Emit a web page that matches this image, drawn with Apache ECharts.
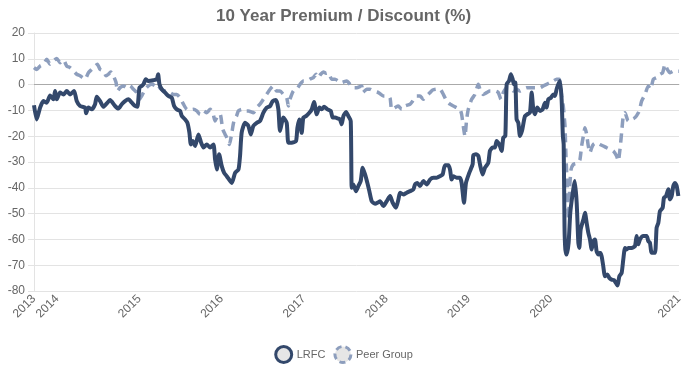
<!DOCTYPE html>
<html>
<head>
<meta charset="utf-8">
<script src="https://cdn.jsdelivr.net/npm/echarts@6/dist/echarts.min.js"></script>
<style>
html,body{margin:0;padding:0;background:#fff;}
#chart{width:687px;height:368px;}
</style>
</head>
<body>
<div id="chart"></div>
<script>
// x values are decimal years
const xMin = 2013.72;
const xMax = 2021.556;
const yTicks = [-80, -70, -60, -50, -40, -30, -20, -10, 0, 10, 20];

const lrfc = [
[2013.72,-8.0],[2013.753,-13.5],[2013.794,-8.9],[2013.834,-6.4],[2013.875,-7.0],[2013.915,-4.2],[2013.956,-5.7],[2013.976,-2.5],[2013.996,-5.7],
[2014.037,-3.1],[2014.077,-3.8],[2014.118,-2.5],[2014.158,-3.8],[2014.207,-2.5],[2014.239,-6.4],[2014.28,-8.3],[2014.34,-8.9],[2014.353,-11.1],
[2014.381,-8.9],[2014.421,-9.6],[2014.462,-7.6],[2014.482,-4.7],[2014.523,-6.4],[2014.563,-8.6],[2014.604,-7.3],[2014.644,-6.0],[2014.705,-8.3],
[2014.746,-9.3],[2014.786,-7.6],[2014.826,-6.4],[2014.867,-5.7],[2014.908,-7.0],[2014.948,-8.3],[2014.976,-8.6],[2015.001,-1.2],[2015.029,-0.5],
[2015.05,0.1],[2015.078,2.1],[2015.11,1.4],[2015.171,1.7],[2015.212,2.1],[2015.228,4.0],[2015.244,0.1],[2015.272,-1.8],[2015.313,-3.1],[2015.353,-4.4],
[2015.394,-5.1],[2015.422,-8.3],[2015.455,-9.6],[2015.495,-10.2],[2015.516,-12.2],[2015.556,-13.5],[2015.584,-14.8],[2015.608,-18.6],[2015.625,-23.2],
[2015.649,-21.9],[2015.677,-23.8],[2015.718,-19.3],[2015.75,-22.5],[2015.779,-24.4],[2015.819,-23.2],[2015.86,-24.4],[2015.9,-23.2],[2015.92,-29.0],
[2015.941,-32.9],[2015.969,-27.0],[2016.001,-31.6],[2016.03,-34.2],[2016.062,-35.5],[2016.123,-38.1],[2016.163,-34.2],[2016.204,-32.9],[2016.223,-27.7],
[2016.243,-18.6],[2016.284,-14.8],[2016.324,-16.0],[2016.353,-19.3],[2016.385,-16.0],[2016.426,-14.8],[2016.466,-14.1],[2016.507,-10.9],[2016.547,-8.9],
[2016.588,-8.3],[2016.62,-6.4],[2016.66,-6.0],[2016.689,-9.6],[2016.709,-18.0],[2016.75,-12.8],[2016.79,-14.8],[2016.81,-22.5],[2016.851,-22.5],
[2016.903,-21.9],[2016.92,-16.7],[2016.944,-13.5],[2016.972,-18.7],[2016.992,-12.8],[2017.025,-12.2],[2017.065,-10.9],[2017.094,-9.6],[2017.122,-6.7],
[2017.155,-11.5],[2017.187,-8.9],[2017.215,-9.6],[2017.244,-8.6],[2017.284,-9.6],[2017.325,-10.2],[2017.349,-12.8],[2017.377,-12.8],[2017.418,-13.2],
[2017.438,-13.5],[2017.458,-15.4],[2017.479,-12.2],[2017.511,-10.6],[2017.539,-12.2],[2017.568,-14.1],[2017.58,-40.0],[2017.6,-38.7],[2017.632,-41.3],
[2017.661,-39.3],[2017.689,-37.4],[2017.713,-32.2],[2017.742,-34.8],[2017.77,-38.1],[2017.794,-41.3],[2017.823,-45.2],[2017.863,-46.2],[2017.904,-45.6],
[2017.924,-45.2],[2017.965,-47.1],[2018.005,-45.2],[2018.046,-43.2],[2018.078,-45.8],[2018.118,-47.7],[2018.147,-44.5],[2018.167,-41.9],[2018.208,-42.6],
[2018.248,-41.9],[2018.289,-41.3],[2018.329,-40.6],[2018.349,-38.7],[2018.378,-38.1],[2018.41,-39.3],[2018.45,-37.4],[2018.491,-38.7],[2018.531,-36.8],
[2018.572,-36.1],[2018.612,-36.1],[2018.653,-35.5],[2018.685,-34.8],[2018.713,-31.3],[2018.754,-31.3],[2018.774,-32.9],[2018.794,-36.8],[2018.815,-35.5],
[2018.854,-36.1],[2018.895,-36.1],[2018.915,-38.1],[2018.944,-45.8],[2018.968,-38.1],[2019.008,-34.2],[2019.049,-30.9],[2019.057,-27.4],[2019.089,-27.0],
[2019.118,-27.7],[2019.138,-30.9],[2019.17,-34.8],[2019.199,-32.2],[2019.239,-30.3],[2019.259,-25.7],[2019.292,-24.4],[2019.32,-24.4],[2019.34,-21.9],
[2019.373,-23.2],[2019.401,-25.7],[2019.421,-20.6],[2019.446,-19.9],[2019.462,0.1],[2019.49,1.4],[2019.514,4.0],[2019.535,2.1],[2019.551,0.1],[2019.567,0.8],
[2019.583,-13.5],[2019.604,-14.8],[2019.624,-19.9],[2019.648,-18.0],[2019.664,-15.4],[2019.685,-12.2],[2019.713,-11.5],[2019.745,-10.9],[2019.766,-3.1],
[2019.786,-9.6],[2019.806,-11.5],[2019.834,-8.9],[2019.867,-10.2],[2019.899,-9.6],[2019.928,-7.0],[2019.948,-8.9],[2019.968,-5.7],[2020.0,-5.1],
[2020.029,-3.8],[2020.049,-4.4],[2020.069,-1.8],[2020.09,0.1],[2020.11,1.4],[2020.13,-5.7],[2020.145,-19.9],[2020.155,-23.2],[2020.165,-55.0],
[2020.175,-63.9],[2020.19,-65.9],[2020.215,-61.3],[2020.235,-49.7],[2020.26,-43.2],[2020.29,-37.4],[2020.313,-45.8],[2020.333,-61.3],[2020.345,-63.3],
[2020.361,-56.2],[2020.394,-52.3],[2020.414,-49.7],[2020.434,-53.6],[2020.454,-57.4],[2020.474,-60.0],[2020.495,-63.9],[2020.515,-60.7],[2020.535,-60.0],
[2020.555,-64.6],[2020.576,-65.9],[2020.596,-65.2],[2020.616,-66.5],[2020.636,-70.4],[2020.657,-74.3],[2020.685,-73.6],[2020.709,-74.9],[2020.738,-75.6],
[2020.766,-75.8],[2020.79,-76.9],[2020.81,-77.9],[2020.831,-74.3],[2020.859,-73.0],[2020.879,-67.8],[2020.9,-63.3],[2020.92,-63.9],[2020.94,-63.3],
[2020.981,-63.3],[2021.021,-62.6],[2021.041,-58.7],[2021.062,-61.9],[2021.082,-60.0],[2021.122,-58.7],[2021.163,-58.7],[2021.183,-60.7],[2021.203,-61.3],
[2021.224,-65.2],[2021.264,-65.2],[2021.284,-55.5],[2021.305,-53.6],[2021.325,-49.0],[2021.357,-47.8],[2021.373,-43.9],[2021.398,-43.2],[2021.426,-40.6],
[2021.446,-44.5],[2021.467,-43.2],[2021.487,-39.3],[2021.507,-38.1],[2021.528,-39.3],[2021.548,-43.2]
];

const peerGroup = [
[2013.72,6.6],[2013.753,5.9],[2013.794,7.2],[2013.834,7.9],[2013.875,9.8],[2013.915,7.9],[2013.956,9.2],[2013.996,10.1],[2014.037,8.5],[2014.077,9.6],
[2014.118,7.2],[2014.158,6.6],[2014.199,5.3],[2014.239,4.0],[2014.28,3.4],[2014.312,2.7],[2014.34,2.1],[2014.381,4.6],[2014.421,5.9],[2014.462,7.2],
[2014.49,7.9],[2014.523,5.9],[2014.563,5.3],[2014.596,3.4],[2014.624,4.0],[2014.652,4.9],[2014.685,3.4],[2014.717,0.8],[2014.733,-2.5],[2014.766,-1.2],
[2014.806,-0.5],[2014.847,-1.2],[2014.887,-0.5],[2014.928,-1.8],[2014.968,-3.1],[2015.001,-5.7],[2015.029,-4.4],[2015.07,-1.8],[2015.11,-0.5],[2015.151,0.1],
[2015.191,-0.5],[2015.22,-1.8],[2015.252,-1.2],[2015.292,-2.5],[2015.333,-2.5],[2015.373,-3.1],[2015.414,-3.8],[2015.455,-3.8],[2015.495,-5.1],[2015.536,-7.6],
[2015.576,-9.6],[2015.616,-9.8],[2015.657,-9.6],[2015.697,-10.2],[2015.738,-11.5],[2015.779,-10.2],[2015.819,-10.9],[2015.86,-9.6],[2015.892,-10.9],
[2015.92,-14.1],[2015.949,-12.2],[2015.981,-11.5],[2016.013,-17.3],[2016.042,-19.3],[2016.062,-20.6],[2016.094,-23.2],[2016.123,-18.7],[2016.15,-14.0],
[2016.183,-12.0],[2016.203,-10.2],[2016.243,-9.6],[2016.284,-10.2],[2016.324,-10.2],[2016.385,-10.9],[2016.426,-8.9],[2016.466,-7.6],[2016.507,-5.7],
[2016.547,-3.8],[2016.588,-1.8],[2016.628,-0.5],[2016.668,-2.5],[2016.709,-2.5],[2016.75,-3.8],[2016.79,-5.1],[2016.81,-8.3],[2016.83,-5.7],[2016.871,-2.5],
[2016.911,-1.8],[2016.952,0.1],[2016.992,1.4],[2017.033,1.4],[2017.073,2.1],[2017.114,2.7],[2017.146,4.0],[2017.174,2.7],[2017.203,4.0],[2017.235,4.9],
[2017.268,4.4],[2017.296,4.6],[2017.336,2.1],[2017.377,2.1],[2017.417,1.4],[2017.458,0.8],[2017.519,1.4],[2017.559,0.1],[2017.592,-1.2],[2017.64,-1.2],
[2017.701,-0.5],[2017.713,-3.1],[2017.762,-1.8],[2017.802,-1.8],[2017.843,-2.5],[2017.904,-3.1],[2017.964,-4.4],[2018.005,-4.4],[2018.045,-5.1],[2018.065,-9.6],
[2018.106,-8.9],[2018.146,-8.3],[2018.187,-9.6],[2018.227,-8.3],[2018.288,-7.6],[2018.32,-6.4],[2018.369,-4.4],[2018.409,-4.4],[2018.45,-5.7],[2018.49,-4.4],
[2018.531,-3.1],[2018.563,-2.1],[2018.612,-1.8],[2018.652,-1.8],[2018.693,-3.8],[2018.733,-6.4],[2018.774,-7.6],[2018.814,-8.3],[2018.855,-8.9],[2018.895,-9.6],
[2018.915,-11.5],[2018.935,-16.0],[2018.956,-20.0],[2018.976,-13.5],[2018.996,-9.6],[2019.037,-5.7],[2019.077,-3.8],[2019.118,0.1],[2019.138,-1.8],[2019.178,-3.8],
[2019.219,-3.1],[2019.259,-2.5],[2019.32,-2.5],[2019.361,-3.1],[2019.393,-5.7],[2019.421,-3.1],[2019.462,-1.2],[2019.502,-1.2],[2019.543,-2.5],[2019.583,-1.8],
[2019.624,-2.5],[2019.664,-1.8],[2019.705,-1.2],[2019.745,-1.2],[2019.806,-1.2],[2019.867,-1.2],[2019.907,-0.5],[2019.948,0.1],[2019.988,0.8],[2020.029,1.4],
[2020.069,2.1],[2020.102,2.1],[2020.13,-4.4],[2020.15,-8.3],[2020.159,-11.5],[2020.171,-16.0],[2020.183,-28.0],[2020.2,-40.0],[2020.215,-52.3],[2020.228,-40.0],
[2020.245,-32.9],[2020.272,-30.9],[2020.3,-30.6],[2020.333,-30.3],[2020.353,-29.0],[2020.373,-23.8],[2020.394,-19.9],[2020.414,-16.7],[2020.434,-19.3],
[2020.454,-23.8],[2020.474,-26.4],[2020.495,-24.5],[2020.515,-23.2],[2020.555,-22.5],[2020.596,-23.2],[2020.636,-23.8],[2020.677,-24.5],[2020.717,-25.1],
[2020.758,-25.7],[2020.798,-27.7],[2020.818,-29.6],[2020.839,-25.1],[2020.859,-18.6],[2020.879,-12.2],[2020.9,-10.9],[2020.94,-14.1],[2020.981,-13.5],
[2021.021,-12.8],[2021.062,-10.9],[2021.082,-9.0],[2021.102,-6.4],[2021.143,-3.8],[2021.183,-0.5],[2021.211,-1.8],[2021.244,2.1],[2021.284,2.7],[2021.325,4.0],
[2021.357,4.6],[2021.386,7.9],[2021.414,5.9],[2021.446,4.6],[2021.487,5.2],[2021.528,5.2],[2021.556,5.2]
];

const seriesNames = ['LRFC', 'Peer Group'];
const titleText = '10 Year Premium / Discount (%)';

const lrfcColor = '#33486b';
const peerColor = '#8d9ebd';
const font = "'Liberation Sans', Arial, sans-serif";

const chart = echarts.init(document.getElementById('chart'), null, {renderer: 'canvas'});
chart.setOption({
  animation: false,
  backgroundColor: '#fff',
  title: {
    text: titleText,
    left: 'center',
    top: 3,
    textStyle: {fontFamily: font, fontSize: 17, fontWeight: 'bold', color: '#666'}
  },
  legend: {
    data: [
      {name: seriesNames[0], itemStyle: {color: '#e6e6e6', borderColor: lrfcColor, borderWidth: 3}},
      {name: seriesNames[1], itemStyle: {color: '#e6e6e6', borderColor: peerColor, borderWidth: 3, borderType: [6, 4]}}
    ],
    icon: 'circle',
    left: 'center',
    top: 340,
    itemWidth: 16,
    itemHeight: 16,
    itemGap: 8,
    textStyle: {fontFamily: font, fontSize: 11, color: '#666'}
  },
  grid: {left: 34, right: 8, top: 33, bottom: 77, containLabel: false, outerBoundsMode: 'none'},
  xAxis: {
    type: 'value',
    min: xMin,
    max: xMax,
    splitNumber: 8,
    minInterval: 1,
    maxInterval: 1,
    axisLine: {show: true, lineStyle: {color: '#d0d0d0', width: 1}},
    axisTick: {show: false},
    splitLine: {show: false},
    axisLabel: {
      rotate: 45,
      margin: 6,
      showMinLabel: true,
      showMaxLabel: true,
      fontFamily: font,
      fontSize: 12,
      color: '#666',
      formatter: function (v) {
        if (Math.abs(v - xMin) < 1e-6) return String(Math.floor(xMin));
        if (Math.abs(v - xMax) < 1e-6) return String(Math.floor(xMax));
        if (Math.round(v) === Math.floor(xMax)) return '';
        return String(Math.round(v));
      }
    }
  },
  yAxis: {
    type: 'value',
    min: yTicks[0],
    max: yTicks[yTicks.length - 1],
    interval: 10,
    axisLine: {show: true, lineStyle: {color: '#e3e3e3'}},
    axisTick: {show: true, length: 6, lineStyle: {color: '#e3e3e3'}},
    splitLine: {show: true, lineStyle: {color: '#e3e3e3', width: 1}},
    axisLabel: {margin: 9, fontFamily: font, fontSize: 12, color: '#666'}
  },
  series: [
    {
      name: seriesNames[1],
      type: 'line',
      data: peerGroup,
      showSymbol: false,
      symbol: 'none',
      smooth: 0.2,
      z: 2,
      lineStyle: {color: peerColor, width: 3.5, type: [9, 6]},
      itemStyle: {color: peerColor},
      markLine: {
        silent: true,
        symbol: 'none',
        label: {show: false},
        lineStyle: {color: '#aaaaaa', width: 1, type: 'solid'},
        data: [{yAxis: 0}],
        z: 1
      }
    },
    {
      name: seriesNames[0],
      type: 'line',
      data: lrfc,
      showSymbol: false,
      symbol: 'none',
      smooth: 0.2,
      z: 3,
      lineStyle: {color: lrfcColor, width: 4},
      itemStyle: {color: lrfcColor}
    }
  ]
});
</script>
</body>
</html>
